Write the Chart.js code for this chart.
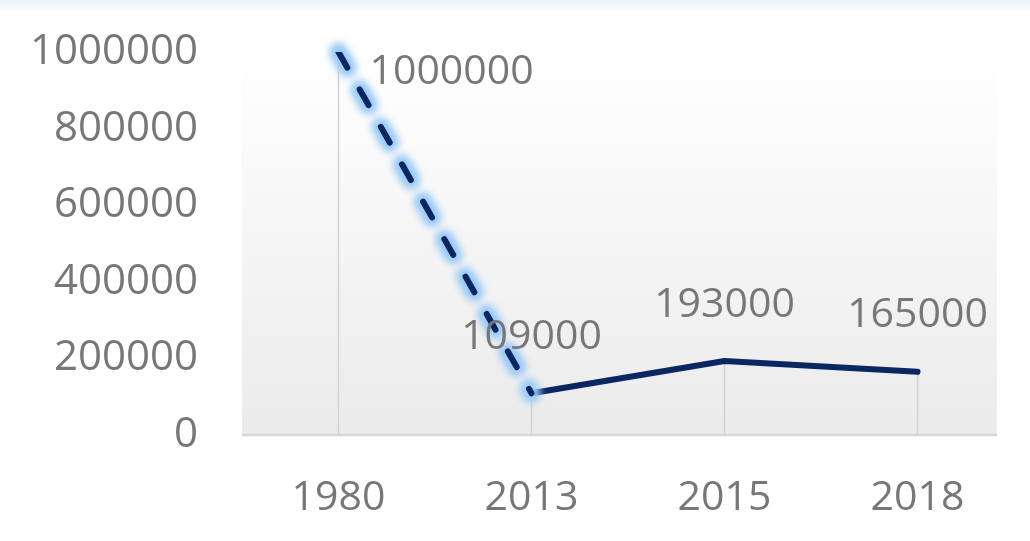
<!DOCTYPE html>
<html>
<head>
<meta charset="utf-8">
<script src="https://cdn.jsdelivr.net/npm/chart.js@4"></script>
<style>
  html, body { margin: 0; padding: 0; background: #fff; }
  body { background: linear-gradient(#eaf3fb 0, #f7fbfe 9px, #fff 12px); }
  #wrap { width: 1030px; height: 541px; }
</style>
</head>
<body>
<div id="wrap"><canvas id="c" width="1030" height="541"></canvas></div>
<script>
const years = ["1980", "2013", "2015", "2018"];
const values = [1000000, 109000, 193000, 165000];
const yTicks = [0, 200000, 400000, 600000, 800000, 1000000];
const labelPos = ["right", "above", "above", "above"];

const textColor = "#777777";
const lineColor = "#0a2762";
const font = { family: "Open Sans", size: 41 };
const dash = [18, 25];

// the 1980 -> 2013 stretch is dashed and glowing, the rest is solid
const dashed = values.map((v, i) => (i <= 1 ? v : null));
const solid = values.map((v, i) => (i >= 1 ? v : null));

const plotDecor = {
  id: "plotDecor",
  beforeDatasetsDraw(chart) {
    const { ctx, chartArea: a, scales: { x, y } } = chart;
    const right = a.right - 17;
    ctx.save();
    const g = ctx.createLinearGradient(0, a.top, 0, a.bottom);
    g.addColorStop(0, "#ffffff");
    g.addColorStop(1, "#ebebeb");
    ctx.fillStyle = g;
    ctx.fillRect(a.left, a.top, right - a.left, a.bottom - a.top);
    // drop lines
    ctx.strokeStyle = "#d2d2d2";
    ctx.lineWidth = 1.5;
    const y0 = y.getPixelForValue(0);
    values.forEach((v, i) => {
      const px = x.getPixelForValue(i);
      ctx.beginPath();
      ctx.moveTo(px, y.getPixelForValue(v));
      ctx.lineTo(px, y0);
      ctx.stroke();
    });
    // axis line
    ctx.strokeStyle = "#d6d6d6";
    ctx.lineWidth = 2.5;
    ctx.beginPath();
    ctx.moveTo(a.left, y0);
    ctx.lineTo(right, y0);
    ctx.stroke();
    ctx.restore();
  },
  beforeDatasetDraw(chart, args) {
    if (args.index !== 0) return;
    // soft blue glow under the dashed stretch
    const ctx = chart.ctx;
    const pts = args.meta.data.filter((p, i) => dashed[i] !== null);
    ctx.save();
    ctx.filter = "blur(3.5px)";
    ctx.strokeStyle = "#98c9f6";
    ctx.lineWidth = 19;
    ctx.lineCap = "round";
    ctx.setLineDash(dash);
    ctx.beginPath();
    pts.forEach((p, i) => (i ? ctx.lineTo(p.x, p.y) : ctx.moveTo(p.x, p.y)));
    ctx.stroke();
    ctx.restore();
  },
  afterDatasetsDraw(chart) {
    const { ctx, scales: { x, y } } = chart;
    ctx.save();
    ctx.font = `${font.size}px "${font.family}"`;
    ctx.fillStyle = textColor;
    ctx.textBaseline = "middle";
    values.forEach((v, i) => {
      const px = x.getPixelForValue(i);
      const py = y.getPixelForValue(v);
      if (labelPos[i] === "right") {
        ctx.textAlign = "left";
        ctx.fillText(String(v), px + 31, py + 20);
      } else {
        ctx.textAlign = "center";
        ctx.fillText(String(v), px, py - 56);
      }
    });
    ctx.restore();
  },
};

new Chart(document.getElementById("c"), {
  type: "line",
  data: {
    labels: years,
    datasets: [
      {
        data: dashed,
        borderColor: lineColor,
        borderWidth: 6,
        borderDash: dash,
        borderCapStyle: "round",
        pointRadius: 0,
        tension: 0,
      },
      {
        data: solid,
        borderColor: lineColor,
        borderWidth: 6,
        borderCapStyle: "round",
        borderJoinStyle: "round",
        pointRadius: 0,
        tension: 0,
      },
    ],
  },
  options: {
    responsive: false,
    animation: false,
    events: [],
    layout: { padding: { top: 52, right: 16, left: 0, bottom: 0 } },
    plugins: { legend: { display: false }, tooltip: { enabled: false } },
    scales: {
      x: {
        offset: true,
        grid: { display: false, offset: true },
        border: { display: false },
        ticks: { color: textColor, font, padding: 31 },
        afterFit: (s) => { s.height = 106; s.paddingLeft = 0; s.paddingRight = 0; },
      },
      y: {
        min: 0,
        max: 1000000,
        grid: { display: false },
        border: { display: false },
        afterBuildTicks: (s) => { s.ticks = yTicks.map((v) => ({ value: v })); },
        ticks: { color: textColor, font: { ...font, size: 42 }, padding: 36, callback: (v) => String(v) },
        afterFit: (s) => { s.width = 242; s.paddingTop = 0; s.paddingBottom = 0; },
      },
    },
  },
  plugins: [plotDecor],
});
</script>
</body>
</html>
